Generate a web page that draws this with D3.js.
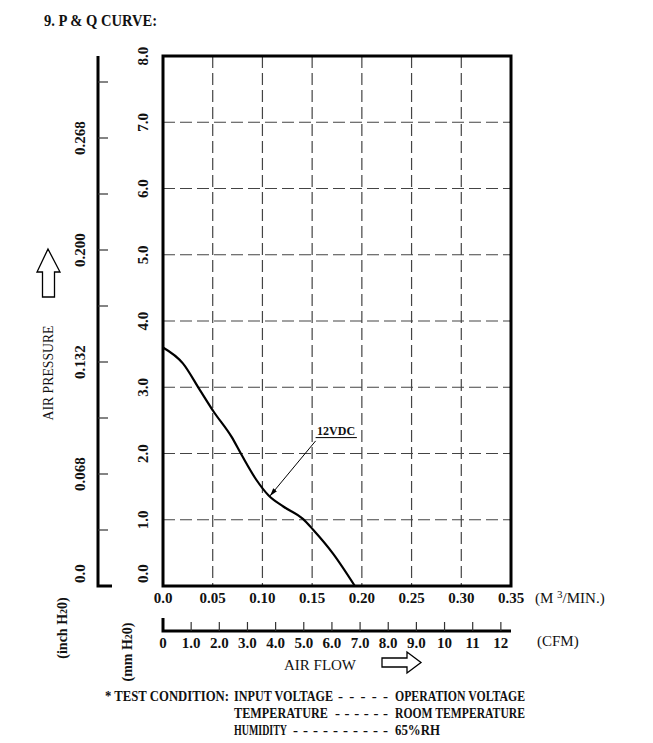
<!DOCTYPE html>
<html>
<head>
<meta charset="utf-8"/>
<title>P & Q curve</title>
<script src="https://d3js.org/d3.v7.min.js"></script>
<style>
    body { margin: 0; background: #fff; }
    text {
        font-family: "Liberation Serif", "Times New Roman", serif;
        font-weight: bold;
        fill: #111;
    }
    .grid { stroke: #444; stroke-width: 1.2; stroke-dasharray: 12,5; fill: none; }
    .frame { stroke: #000; stroke-width: 3; fill: none; }
    .axisline { stroke: #000; stroke-width: 3; fill: none; }
    .tick { stroke: #333; stroke-width: 1.2; }
    .pq { stroke: #000; stroke-width: 2.2; fill: none; }
    .plain { font-weight: normal; }
</style>
</head>
<body>
<div id="chart"></div>
<script>
// axis values
var flowTicks = [0, 0.05, 0.10, 0.15, 0.20, 0.25, 0.30, 0.35];
var flowLabels = ["0.0", "0.05", "0.10", "0.15", "0.20", "0.25", "0.30", "0.35"];
var mmTicks = [0, 1, 2, 3, 4, 5, 6, 7, 8];
var mmLabels = ["0.0", "1.0", "2.0", "3.0", "4.0", "5.0", "6.0", "7.0", "8.0"];
var inchTicks = [0, 0.034, 0.068, 0.102, 0.136, 0.170, 0.204, 0.238, 0.272, 0.306];
var inchLabels = ["0.0", "", "0.068", "", "0.132", "", "0.200", "", "0.268", ""];
var cfmTicks = [0, 1, 2, 3, 4, 5, 6, 7, 8, 9, 10, 11, 12];
var cfmLabels = ["0", "1.0", "2.0", "3.0", "4.0", "5.0", "6.0", "7.0", "8.0", "9.0", "10", "11", "12"];

// 12VDC curve (M3/MIN, mm H2O)
var curveFlow =     [0.0,  0.020, 0.037, 0.051, 0.069, 0.079, 0.094, 0.106, 0.121, 0.141, 0.151, 0.171, 0.193];
var curvePressure = [3.60, 3.36,  2.96,  2.63,  2.25,  1.98,  1.60,  1.37,  1.20,  1.01,  0.85,  0.49,  0.0];

var testLines = [
    ["* TEST CONDITION:", "INPUT VOLTAGE", "-----", "OPERATION VOLTAGE"],
    ["", "TEMPERATURE", "------", "ROOM TEMPERATURE"],
    ["", "HUMIDITY", "----------", "65%RH"]
];
// x start / width of each piece of the test condition text
var testLayout = [
    [[105, 124], [234, 99], [338, 50], [395, 130]],
    [null, [234, 94], [335, 53], [395, 130]],
    [null, [234, 53], [293, 95], [395, 45]]
];

var width = 653, height = 743;
var pLeft = 163, pRight = 511, pTop = 56, pBottom = 586;

var svg = d3.select("#chart").append("svg")
    .attr("width", width)
    .attr("height", height);

var x = d3.scaleLinear().domain([0, 0.35]).range([pLeft, pRight]);
var y = d3.scaleLinear().domain([0, 8]).range([pBottom, pTop]);
// inch scale: 0.034 inch every 56px
var inchMax = 0.034 * (pBottom - pTop) / 56;
var inch = d3.scaleLinear().domain([0, inchMax]).range([pBottom, pTop]);
var cfm = d3.scaleLinear().domain([0, 0.35 * 35.315]).range([pLeft, pRight]);

// title
svg.append("text")
    .attr("x", 44).attr("y", 26)
    .attr("textLength", 113).attr("lengthAdjust", "spacingAndGlyphs")
    .style("font-size", "16px")
    .text("9. P & Q CURVE:");

// grid
svg.selectAll(".vgrid")
    .data(flowTicks.slice(1, -1))
    .enter().append("line")
    .attr("class", "grid")
    .attr("x1", d => x(d)).attr("x2", d => x(d))
    .attr("y1", pTop).attr("y2", pBottom);

svg.selectAll(".hgrid")
    .data(mmTicks.slice(1, -1))
    .enter().append("line")
    .attr("class", "grid")
    .attr("x1", pLeft).attr("x2", pRight)
    .attr("y1", d => y(d)).attr("y2", d => y(d));

svg.append("rect")
    .attr("class", "frame")
    .attr("x", pLeft).attr("y", pTop)
    .attr("width", pRight - pLeft).attr("height", pBottom - pTop);

// mm H2O labels (rotated)
svg.selectAll(".mmlab")
    .data(mmTicks)
    .enter().append("text")
    .attr("transform", function(d, i) {
        return "translate(143," + (i == 0 ? y(d) - 3 : y(d)) + ") rotate(-90)";
    })
    .attr("text-anchor", (d, i) => i == 0 ? "start" : "middle")
    .attr("dy", "0.35em")
    .style("font-size", "15px")
    .text((d, i) => mmLabels[i]);

// inch axis
svg.append("path")
    .attr("class", "axisline")
    .attr("d", "M98," + inch(inchMax) + "V" + inch(0) + "H112");

svg.selectAll(".inchtick")
    .data(inchTicks.slice(1))
    .enter().append("line")
    .attr("class", "tick")
    .attr("x1", 98).attr("x2", 108)
    .attr("y1", d => inch(d)).attr("y2", d => inch(d));

svg.selectAll(".inchlab")
    .data(inchTicks)
    .enter().append("text")
    .attr("transform", function(d, i) {
        return "translate(80," + (i == 0 ? inch(d) - 3 : inch(d)) + ") rotate(-90)";
    })
    .attr("text-anchor", (d, i) => i == 0 ? "start" : "middle")
    .attr("dy", "0.35em")
    .style("font-size", "15px")
    .text((d, i) => inchLabels[i]);

// AIR PRESSURE + arrow
svg.append("text")
    .attr("class", "plain")
    .attr("transform", "translate(48,373) rotate(-90)")
    .attr("text-anchor", "middle")
    .attr("dy", "0.35em")
    .attr("textLength", 95).attr("lengthAdjust", "spacingAndGlyphs")
    .style("font-size", "14px")
    .text("AIR PRESSURE");

svg.append("path")
    .attr("d", "M48,249 L60,272 L54.5,272 L54.5,297 L42.5,297 L42.5,272 L37,272 Z")
    .attr("fill", "#fff").attr("stroke", "#000").attr("stroke-width", 1.3);

// unit labels at the left bottom
function unitLabel(cx, cy, pre) {
    var t = svg.append("text")
        .attr("transform", "translate(" + cx + "," + cy + ") rotate(-90)")
        .attr("text-anchor", "middle")
        .attr("dy", "0.35em")
        .style("font-size", "14px");
    t.append("tspan").text(pre + "  H");
    t.append("tspan").style("font-size", "10px").text("2");
    t.append("tspan").text("0)");
}
unitLabel(62, 628, "(inch");
unitLabel(127, 652, "(mm");

// flow labels
svg.selectAll(".flowlab")
    .data(flowTicks)
    .enter().append("text")
    .attr("x", d => x(d)).attr("y", 598)
    .attr("dy", "0.35em")
    .attr("text-anchor", "middle")
    .style("font-size", "15px")
    .text((d, i) => flowLabels[i]);

var m3 = svg.append("text")
    .attr("class", "plain")
    .attr("x", 535).attr("y", 598).attr("dy", "0.35em")
    .style("font-size", "15px");
m3.append("tspan").text("(M ");
m3.append("tspan").style("font-size", "11px").attr("dy", "-5").text("3");
m3.append("tspan").attr("dy", "5").text("/MIN.)");

// CFM axis
svg.append("path")
    .attr("class", "axisline")
    .attr("d", "M" + cfm(0) + ",618V631H" + pRight);

svg.selectAll(".cfmtick")
    .data(cfmTicks.slice(1))
    .enter().append("line")
    .attr("class", "tick")
    .attr("x1", d => cfm(d)).attr("x2", d => cfm(d))
    .attr("y1", 622).attr("y2", 631);

svg.selectAll(".cfmlab")
    .data(cfmTicks)
    .enter().append("text")
    .attr("x", d => cfm(d)).attr("y", 643)
    .attr("dy", "0.35em")
    .attr("text-anchor", "middle")
    .style("font-size", "15px")
    .text((d, i) => cfmLabels[i]);

svg.append("text")
    .attr("class", "plain")
    .attr("x", 537).attr("y", 641).attr("dy", "0.35em")
    .style("font-size", "15px")
    .text("(CFM)");

svg.append("text")
    .attr("class", "plain")
    .attr("x", 320).attr("y", 665).attr("dy", "0.35em")
    .attr("text-anchor", "middle")
    .style("font-size", "15px")
    .text("AIR  FLOW");

svg.append("path")
    .attr("d", "M382,658 L407,658 L407,652 L421,662.5 L407,673 L407,667 L382,667 Z")
    .attr("fill", "#fff").attr("stroke", "#000").attr("stroke-width", 1.3);

// P-Q curve
var line = d3.line()
    .x((d, i) => x(curveFlow[i]))
    .y(d => y(d))
    .curve(d3.curveMonotoneX);

svg.append("path")
    .datum(curvePressure)
    .attr("class", "pq")
    .attr("d", line);

// 12VDC callout
svg.append("defs").append("marker")
    .attr("id", "tip")
    .attr("viewBox", "0 0 10 10")
    .attr("refX", 10).attr("refY", 5)
    .attr("markerWidth", 8).attr("markerHeight", 8)
    .attr("markerUnits", "userSpaceOnUse")
    .attr("orient", "auto")
    .append("path").attr("d", "M0,2 L10,5 L0,8 Z").attr("fill", "#000");

svg.append("line")
    .attr("x1", x(0.1535)).attr("y1", y(2.19))
    .attr("x2", x(0.1076)).attr("y2", y(1.36))
    .attr("stroke", "#000").attr("stroke-width", 1)
    .attr("marker-end", "url(#tip)");

svg.append("line")
    .attr("x1", x(0.1535)).attr("x2", x(0.195))
    .attr("y1", y(2.24)).attr("y2", y(2.24))
    .attr("stroke", "#000").attr("stroke-width", 1);

svg.append("text")
    .attr("x", x(0.155)).attr("y", y(2.24) - 3)
    .attr("textLength", 38).attr("lengthAdjust", "spacingAndGlyphs")
    .style("font-size", "13px")
    .text("12VDC");

// test conditions (the dash runs keep their glyph size, only spacing grows)
testLines.forEach(function(row, r) {
    row.forEach(function(s, c) {
        if (!s) return;
        var pos = testLayout[r][c];
        svg.append("text")
            .attr("x", pos[0]).attr("y", 701 + r * 17)
            .attr("textLength", pos[1])
            .attr("lengthAdjust", c == 2 ? "spacing" : "spacingAndGlyphs")
            .style("font-size", "15px")
            .text(s);
    });
});
</script>
</body>
</html>
